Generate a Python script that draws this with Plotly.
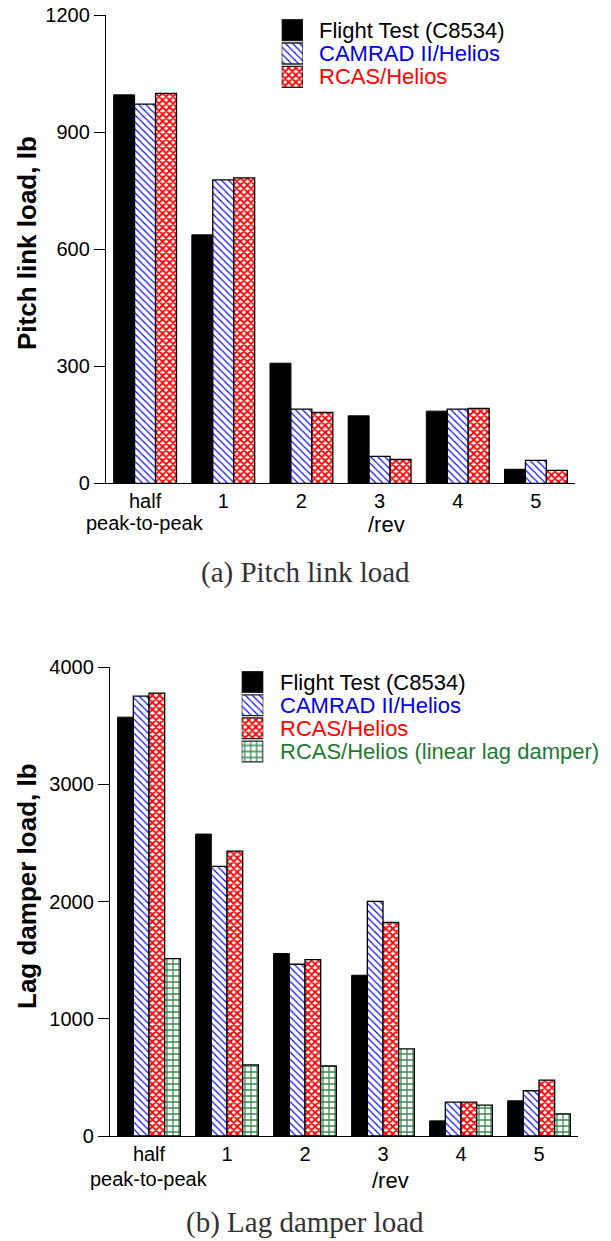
import plotly.graph_objects as go

# ---- data -------------------------------------------------------------
categories = ["half", "1", "2", "3", "4", "5"]

pitch_flight = [996, 637, 308, 173, 185, 36]
pitch_camrad = [972, 778, 190, 69, 190, 59]
pitch_rcas = [1000, 783, 182, 61, 192, 33]

lag_flight = [3572, 2575, 1556, 1371, 129, 300]
lag_camrad = [3751, 2299, 1465, 2001, 289, 386]
lag_rcas = [3777, 2430, 1505, 1822, 289, 477]
lag_rcas_linear = [1512, 606, 597, 743, 263, 189]

series_names = [
    "Flight Test (C8534)",
    "CAMRAD II/Helios",
    "RCAS/Helios",
    "RCAS/Helios (linear lag damper)",
]
text_colors = ["#000000", "#0000e6", "#ff0000", "#1f7a32"]

# ---- styling ------------------------------------------------------------
W, H = 611, 1241
SANS = "Liberation Sans, Arial, sans-serif"
SERIF = "Liberation Serif, Times New Roman, serif"

STYLES = [
    dict(color="black", line=dict(color="black", width=1)),
    dict(color="white", line=dict(color="black", width=1.3),
         pattern=dict(shape="\\", fgcolor="#0000ff", bgcolor="white",
                      size=5, solidity=0.22, fgopacity=1)),
    dict(color="white", line=dict(color="black", width=1.3),
         pattern=dict(shape="x", fgcolor="#ff0000", bgcolor="white",
                      size=5, solidity=0.6, fgopacity=1)),
    dict(color="white", line=dict(color="black", width=1.3),
         pattern=dict(shape="+", fgcolor="#3a8a50", bgcolor="white",
                      size=6, solidity=0.38, fgopacity=1)),
]


def px_x(x):
    return x / W


def px_y(y):
    return 1 - y / H


fig = go.Figure()

# ---- main bar panels ----------------------------------------------------
panels = [
    ("x", "y", [pitch_flight, pitch_camrad, pitch_rcas]),
    ("x2", "y2", [lag_flight, lag_camrad, lag_rcas, lag_rcas_linear]),
]
for xa, ya, values in panels:
    for i, vals in enumerate(values):
        fig.add_trace(go.Bar(
            x=list(range(len(categories))), y=vals, name=series_names[i],
            marker=STYLES[i], xaxis=xa, yaxis=ya, showlegend=False,
        ))

# ---- legend keys: one short horizontal bar per series --------------------
legend_blocks = [
    ("x3", "y3", 3, 318),
    ("x4", "y4", 4, 279),
]
for xa, ya, n, text_x in legend_blocks:
    for i in range(n):
        fig.add_trace(go.Bar(
            y=[i], x=[1], orientation="h", width=0.9, offset=-0.45,
            marker=dict(STYLES[i], line=dict(color="#222222", width=1.3)),
            xaxis=xa, yaxis=ya, showlegend=False, hoverinfo="skip",
        ))
        fig.add_annotation(
            x=px_x(text_x), xref="paper", y=i, yref=ya,
            text=series_names[i], showarrow=False,
            xanchor="left", yanchor="middle", borderpad=0,
            font=dict(family=SANS, size=22, color=text_colors[i]),
        )

axis_common = dict(showgrid=False, zeroline=False, showline=True,
                   linecolor="black", linewidth=1.3, automargin=False)
hidden = dict(visible=False, fixedrange=True, automargin=False)

fig.update_layout(
    width=W, height=H,
    margin=dict(l=0, r=0, t=0, b=0, autoexpand=False),
    paper_bgcolor="white", plot_bgcolor="white",
    barmode="group", bargap=0.196, bargroupgap=0,
    font=dict(family=SANS, color="black"),
    xaxis=dict(domain=[px_x(106), px_x(575)], anchor="y",
               tickmode="array", tickvals=list(range(6)), ticktext=categories,
               range=[-0.5, 5.5], ticks="",
               tickfont=dict(size=20), **axis_common),
    yaxis=dict(domain=[px_y(483.3), px_y(15.3)], anchor="x",
               range=[0, 1200], tickvals=[0, 300, 600, 900, 1200],
               ticks="outside", ticklen=11, tickwidth=1.3, tickcolor="black",
               tickfont=dict(size=20), **axis_common),
    xaxis2=dict(domain=[px_x(110), px_x(578)], anchor="y2",
                tickmode="array", tickvals=list(range(6)), ticktext=categories,
                range=[-0.5, 5.5], ticks="",
                tickfont=dict(size=20), **axis_common),
    yaxis2=dict(domain=[px_y(1136), px_y(667)], anchor="x2",
                range=[0, 4000], tickvals=[0, 1000, 2000, 3000, 4000],
                ticks="outside", ticklen=11, tickwidth=1.3, tickcolor="black",
                tickfont=dict(size=20), **axis_common),
    xaxis3=dict(domain=[px_x(281.7), px_x(303.0)], anchor="y3",
                range=[0, 1], **hidden),
    yaxis3=dict(domain=[px_y(88.5), px_y(18.5)], anchor="x3",
                range=[2.5, -0.5], **hidden),
    xaxis4=dict(domain=[px_x(241.7), px_x(263.3)], anchor="y4",
                range=[0, 1], **hidden),
    yaxis4=dict(domain=[px_y(763.0), px_y(670.5)], anchor="x4",
                range=[3.5, -0.5], **hidden),
)

# ---- axis titles, second tick line and captions -------------------------
for text, yc in [("Pitch link load, lb", 243), ("Lag damper load, lb", 886)]:
    fig.add_annotation(
        x=px_x(27), y=px_y(yc), xref="paper", yref="paper",
        xanchor="center", yanchor="middle",
        text=text, textangle=-90, showarrow=False,
        font=dict(family=SANS, size=26, weight="bold", color="black"),
    )

for xa, yc in [("x", 523), ("x2", 1179)]:
    fig.add_annotation(
        x=0, xref=xa, y=px_y(yc), yref="paper",
        xanchor="center", yanchor="middle",
        text="peak-to-peak", showarrow=False,
        font=dict(family=SANS, size=20, color="black"),
    )
    fig.add_annotation(
        x=3, xref=xa, xshift=7, y=px_y(yc + 1), yref="paper",
        xanchor="center", yanchor="middle",
        text="/rev", showarrow=False,
        font=dict(family=SANS, size=22, color="black"),
    )

for text, yc in [("(a) Pitch link load", 572), ("(b) Lag damper load", 1222)]:
    fig.add_annotation(
        x=px_x(305), y=px_y(yc), xref="paper", yref="paper",
        xanchor="center", yanchor="middle",
        text=text, showarrow=False,
        font=dict(family=SERIF, size=29, color="#333333"),
    )

fig.write_html("out.html")
